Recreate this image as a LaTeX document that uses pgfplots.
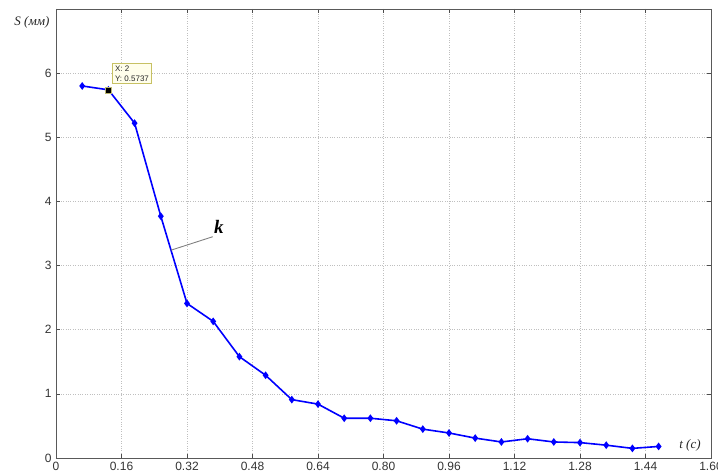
\documentclass[border=0pt]{standalone}
\usepackage{fontspec}
\setmainfont{Liberation Serif}
\newfontfamily\sansf{Liberation Sans}
\usepackage{pgfplots}
\pgfplotsset{compat=1.18}
\begin{document}
\begin{tikzpicture}[x=1pt,y=1pt]
\useasboundingbox (-56,-18) rectangle (662,458);
\begin{axis}[
  anchor=south west, at={(0,0)},
  scale only axis, width=655pt, height=449pt,
  xmin=0, xmax=1.6, ymin=0, ymax=7,
  xtick={0,0.16,0.32,0.48,0.64,0.80,0.96,1.12,1.28,1.44,1.60},
  xticklabels={0,0.16,0.32,0.48,0.64,0.80,0.96,1.12,1.28,1.44,1.60},
  ytick={0,1,2,3,4,5,6},
  yticklabels={0,1,2,3,4,5,6},
  tick align=inside, tick pos=both,
  major tick length=4pt,
  tick style={gray!60!black, line width=0.6pt},
  axis line style={gray!70!black, line width=0.8pt},
  grid=major,
  major grid style={gray!50, dotted, line width=0.6pt},
  tick label style={font=\sansf\fontsize{12}{13}\selectfont, text=gray!40!black},
  xticklabel style={yshift=-1pt},
  yticklabel style={xshift=-1pt},
]
\addplot[blue, line width=1.6pt, mark=diamond*, mark size=2.6pt, mark options={solid, fill=blue}]
coordinates {
(0.064,5.80) (0.128,5.74) (0.192,5.22) (0.256,3.77) (0.320,2.41)
(0.384,2.13) (0.448,1.58) (0.512,1.29) (0.576,0.91) (0.640,0.84)
(0.704,0.62) (0.768,0.62) (0.832,0.58) (0.896,0.45) (0.960,0.39)
(1.024,0.31) (1.088,0.25) (1.152,0.30) (1.216,0.25) (1.280,0.24)
(1.344,0.20) (1.408,0.15) (1.472,0.18)
};
\addplot[only marks, mark=square*, mark size=3pt, mark options={fill=black, draw=yellow!40!gray}]
coordinates {(0.128,5.74)};
\node[draw=yellow!50!gray, fill=yellow!8, anchor=south west, inner sep=2.5pt, align=left,
  font=\sansf\fontsize{8}{10}\selectfont, text=gray!30!black]
  at ([xshift=4pt,yshift=6pt]axis cs:0.128,5.74) {X: 2\\Y: 0.5737};
\draw[gray, line width=0.9pt] (axis cs:0.281,3.24) -- (axis cs:0.383,3.45);
\node[font=\fontsize{19}{21}\selectfont\bfseries\itshape] at (axis cs:0.398,3.60) {k};
\end{axis}
\node[font=\fontsize{13}{14}\selectfont\itshape, text=gray!30!black] at (-24,436) {S (мм)};
\node[font=\fontsize{13}{14}\selectfont\itshape, text=gray!30!black] at (634,13) {t (с)};
\end{tikzpicture}
\end{document}
